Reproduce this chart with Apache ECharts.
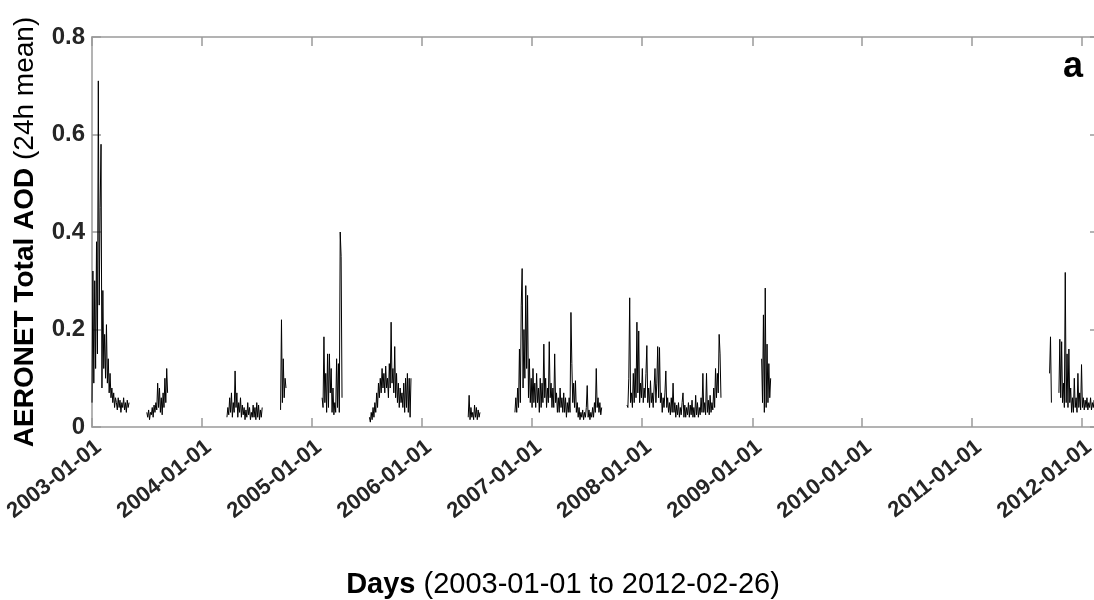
<!DOCTYPE html>
<html>
<head>
<meta charset="utf-8">
<script src="https://cdn.jsdelivr.net/npm/echarts@6/dist/echarts.min.js"></script>
<style>html,body{margin:0;padding:0;background:#fff;overflow:hidden;width:1094px;height:600px}#c{width:1100px;height:600px}</style>
</head>
<body>
<div id="c"></div>
<script>
// ---------- data ----------
const xMin = '2003-01-01';
const xMax = '2012-02-26';
const yearTicks = ['2003-01-01','2004-01-01','2005-01-01','2006-01-01','2007-01-01','2008-01-01','2009-01-01','2010-01-01','2011-01-01','2012-01-01'];
const yTicks = [0, 0.2, 0.4, 0.6, 0.8];
const stepDays = 3; // values below are sampled every 3 days from each segment start

const seg01Start = '2003-01-01';
const seg01 = [0.05,0.32,0.09,0.30,0.12,0.38,0.15,0.71,0.25,0.45,0.58,0.08,0.28,0.12,0.19,0.10,0.21,0.09,0.14,0.07,0.11,0.06,0.08,0.05,0.07,0.04,0.06,0.05,0.035,0.06,0.04,0.055,0.03,0.05,0.04,0.06,0.035,0.05,0.03,0.055,0.04,0.05];
const seg02Start = '2003-07-02';
const seg02 = [0.03,0.02,0.035,0.015,0.03,0.025,0.04,0.02,0.045,0.03,0.05,0.035,0.09,0.04,0.08,0.03,0.06,0.025,0.07,0.04,0.10,0.05,0.12,0.07];
const seg03Start = '2004-03-24';
const seg03 = [0.02,0.04,0.025,0.06,0.03,0.07,0.02,0.05,0.03,0.115,0.04,0.07,0.02,0.05,0.03,0.06,0.02,0.045,0.025,0.04,0.015,0.035,0.02,0.05,0.025,0.04,0.015,0.03,0.02,0.045,0.02,0.04,0.015,0.05,0.02,0.045,0.015,0.035,0.02,0.04];
const seg04Start = '2004-09-18';
const seg04 = [0.035,0.22,0.05,0.14,0.06,0.10,0.08];
const seg05Start = '2005-02-03';
const seg05 = [0.06,0.04,0.185,0.05,0.11,0.03,0.15,0.04,0.15,0.07,0.12,0.03,0.08,0.025,0.05,0.03,0.14,0.04,0.13,0.03,0.40,0.35,0.06];
const seg06Start = '2005-07-10';
const seg06 = [0.02,0.01,0.03,0.015,0.04,0.02,0.05,0.03,0.07,0.04,0.09,0.06,0.10,0.07,0.12,0.08,0.11,0.07,0.125,0.08,0.10,0.06,0.13,0.08,0.215,0.09,0.12,0.07,0.165,0.06,0.11,0.05,0.09,0.04,0.08,0.05,0.07,0.04,0.09,0.03,0.10,0.04,0.11,0.03,0.10,0.02,0.10];
const seg07Start = '2006-06-03';
const seg07 = [0.02,0.065,0.015,0.04,0.02,0.03,0.015,0.045,0.02,0.04,0.015,0.035,0.02,0.03];
const seg08Start = '2006-11-05';
const seg08 = [0.03,0.06,0.03,0.08,0.04,0.16,0.05,0.25,0.325,0.08,0.20,0.10,0.29,0.12,0.27,0.06,0.14,0.05,0.10,0.04,
               0.12,0.05,0.09,0.04,0.11,0.05,0.08,0.03,0.10,0.04,0.09,0.05,0.17,0.06,0.10,0.04,0.08,0.05,0.175,0.06,
               0.09,0.04,0.08,0.04,0.15,0.05,0.07,0.03,0.06,0.03,0.08,0.04,0.06,0.03,0.07,0.03,0.06,0.02,0.05,0.03,
               0.06,0.03,0.235,0.13,0.05,0.09,0.04,0.095,0.03,0.05,0.02,0.04,0.015,0.03,0.02,0.035,0.015,0.03,0.02,0.04,
               0.085,0.02,0.035,0.015,0.03,0.02,0.04,0.02,0.05,0.03,0.12,0.04,0.06,0.03,0.05,0.025,0.04];
const seg09Start = '2007-11-12';
const seg09 = [0.045,0.04,0.10,0.265,0.05,0.07,0.04,0.11,0.05,0.12,0.06,0.215,0.07,0.197,0.05,0.09,0.06,0.12,0.05,0.08,
               0.06,0.11,0.167,0.05,0.08,0.04,0.095,0.05,0.07,0.04,0.08,0.12,0.05,0.09,0.165,0.06,0.163,0.05,0.07,0.03,
               0.06,0.04,0.07,0.115,0.04,0.06,0.03,0.05,0.025,0.06,0.03,0.09,0.03,0.05,0.02,0.045,0.025,0.05,0.02,0.04,
               0.025,0.05,0.07,0.02,0.045,0.02,0.04,0.025,0.05,0.02,0.045,0.025,0.055,0.02,0.04,0.02,0.065,0.025,0.05,0.02,
               0.04,0.025,0.06,0.03,0.11,0.03,0.05,0.025,0.11,0.03,0.055,0.025,0.065,0.03,0.05,0.035,0.08,0.04,0.12,0.06,
               0.11,0.07,0.19,0.15,0.06];
const seg10Start = '2009-02-01';
const seg10 = [0.14,0.05,0.23,0.03,0.285,0.04,0.17,0.05,0.13,0.06,0.10];
const seg11Start = '2011-09-15';
const seg11 = [0.11,0.185,0.05];
const seg12Start = '2011-10-16';
const seg12 = [0.07,0.18,0.06,0.175,0.05,0.09,0.04,0.317,0.05,0.15,0.04,0.16,0.05,0.08,0.03,0.06,0.03,0.10,0.04,0.06,
               0.03,0.11,0.04,0.07,0.035,0.128,0.04,0.06,0.035,0.055,0.04,0.06,0.035,0.05,0.04,0.06,0.035,0.05,0.04,0.055,
               0.04,0.05,0.035,0.045];

const segments = [
  [seg01Start, seg01],[seg02Start, seg02],[seg03Start, seg03],[seg04Start, seg04],
  [seg05Start, seg05],[seg06Start, seg06],[seg07Start, seg07],[seg08Start, seg08],
  [seg09Start, seg09],[seg10Start, seg10],[seg11Start, seg11],[seg12Start, seg12]
];

// ---------- build ----------
function toTime(s, addDays) {
  const p = s.split('-').map(Number);
  return new Date(p[0], p[1] - 1, p[2] + (addDays || 0)).getTime();
}
const tickVals = yearTicks.map(s => toTime(s));
const tickLabel = {};
yearTicks.forEach(s => { tickLabel[toTime(s)] = s; });

const FONT = '"Liberation Sans", Arial, Helvetica, sans-serif';
const AX = '#9a9a9a';

const series = segments.map(([start, vals]) => ({
  type: 'line',
  xAxisIndex: 0, yAxisIndex: 0,
  showSymbol: false, symbol: 'none',
  animation: false,
  silent: true,
  lineStyle: { color: '#000', width: 1 },
  data: vals.map((v, i) => [toTime(start, i * stepDays), v])
}));

const chart = echarts.init(document.getElementById('c'), null, { renderer: 'canvas', width: 1100, height: 600 });
const xCommon = {
  type: 'value', min: toTime(xMin), max: toTime(xMax), scale: true,
  axisLine: { show: true, onZero: false, lineStyle: { color: AX, width: 1.5 } },
  axisTick: { show: true, inside: true, length: 9, customValues: tickVals, lineStyle: { color: AX, width: 1.5 } },
  splitLine: { show: false }, minorTick: { show: false }
};
const yCommon = {
  type: 'value', min: 0, max: 0.8, interval: 0.2,
  axisLine: { show: true, onZero: false, lineStyle: { color: AX, width: 1.5 } },
  axisTick: { show: true, inside: true, length: 9, lineStyle: { color: AX, width: 1.5 } },
  splitLine: { show: false }
};
chart.setOption({
  animation: false,
  backgroundColor: '#fff',
  textStyle: { fontFamily: FONT },
  grid: { left: 92, top: 37, right: 1, bottom: 173, containLabel: false },
  xAxis: [
    Object.assign({}, xCommon, {
      position: 'bottom',
      axisLabel: {
        customValues: tickVals,
        formatter: v => tickLabel[v] || '',
        rotate: 38, margin: 9, align: 'right', verticalAlign: 'top',
        fontSize: 22, fontWeight: 'bold', color: '#262626', fontFamily: FONT
      }
    }),
    Object.assign({}, xCommon, { position: 'top', axisLabel: { show: false } })
  ],
  yAxis: [
    Object.assign({}, yCommon, {
      position: 'left',
      axisLabel: {
        formatter: v => (v === 0 ? '0' : v.toFixed(1)),
        margin: 7, fontSize: 24, fontWeight: 'bold', color: '#262626', fontFamily: FONT
      }
    }),
    Object.assign({}, yCommon, { position: 'right', axisLabel: { show: false } })
  ],
  graphic: [
    {
      type: 'text', x: 25, y: 232, rotation: Math.PI / 2,
      style: {
        text: '{b|AERONET Total AOD}{n| (24h mean)}',
        align: 'center', verticalAlign: 'middle', fill: '#000',
        rich: {
          b: { fontWeight: 'bold', fontSize: 28, fontFamily: FONT, fill: '#000' },
          n: { fontSize: 28, fontFamily: FONT, fill: '#000' }
        }
      }
    },
    {
      type: 'text', x: 563, y: 585,
      style: {
        text: '{b|Days}{n| (2003-01-01 to 2012-02-26)}',
        align: 'center', verticalAlign: 'middle', fill: '#000',
        rich: {
          b: { fontWeight: 'bold', fontSize: 29, fontFamily: FONT, fill: '#000' },
          n: { fontSize: 29, fontFamily: FONT, fill: '#000' }
        }
      }
    },
    {
      type: 'text', x: 1073, y: 67,
      style: { text: 'a', font: 'bold 36px ' + FONT, align: 'center', verticalAlign: 'middle', fill: '#000' }
    }
  ],
  series: series
});
</script>
</body>
</html>
